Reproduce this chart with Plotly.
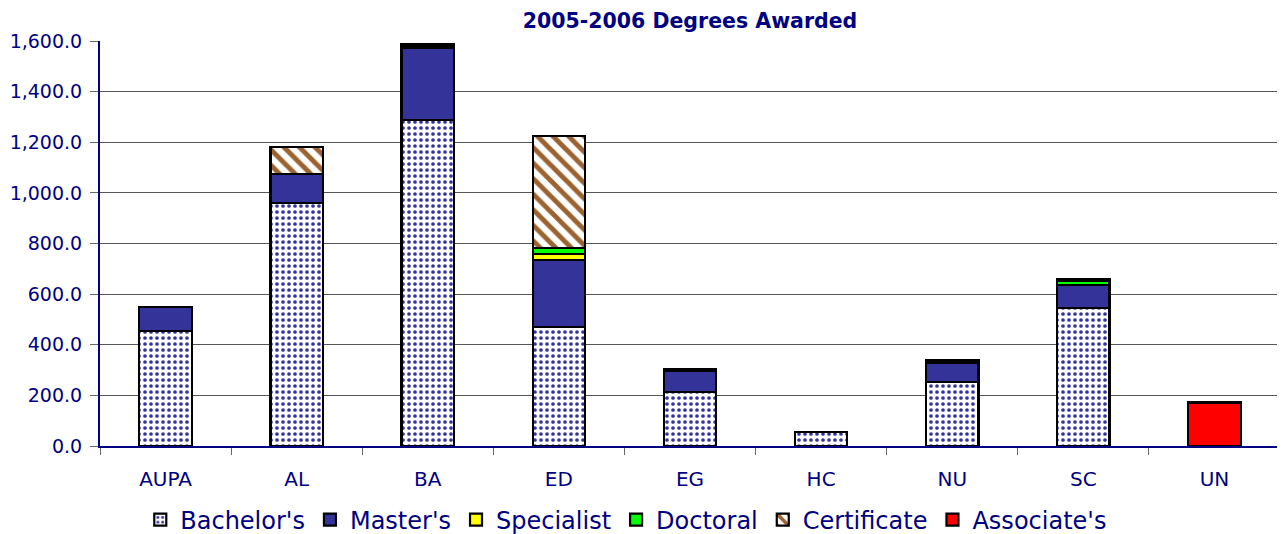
import plotly.graph_objects as go

categories = ["AUPA", "AL", "BA", "ED", "EG", "HC", "NU", "SC", "UN"]
bachelors = [454, 960, 1288, 470, 212, 55, 252, 545, 0]
masters = [95, 115, 284, 265, 84, 0, 78, 90, 0]
specialist = [0, 0, 8, 22, 0, 0, 5, 0, 0]
doctoral = [0, 0, 8, 24, 6, 0, 5, 18, 0]
certificate = [0, 107, 0, 443, 0, 0, 0, 6, 0]
associates = [0, 0, 0, 0, 0, 0, 0, 0, 172]

NAVY = "#000080"
FONT = "DejaVu Sans, Liberation Sans, Arial, sans-serif"

series = [
    ("Bachelor's", bachelors, dict(color="white", pattern=dict(shape=".", fgcolor="#333399", fgopacity=1, bgcolor="white", size=6, solidity=0.3))),
    ("Master's", masters, dict(color="#333399")),
    ("Specialist", specialist, dict(color="#FFFF00")),
    ("Doctoral", doctoral, dict(color="#00FF00")),
    ("Certificate", certificate, dict(color="white", pattern=dict(shape="\\", fgcolor="#9C6330", fgopacity=1, bgcolor="white", size=11, solidity=0.45))),
    ("Associate's", associates, dict(color="#FF0000")),
]

fig = go.Figure()
for name, vals, mk in series:
    mk = dict(mk)
    mk["line"] = dict(color="black", width=2.2)
    fig.add_trace(go.Bar(name=name, x=categories, y=vals, marker=mk))

fig.update_layout(
    barmode="stack",
    bargap=0.6,
    width=1277,
    height=526,
    margin=dict(l=92, r=5, t=33, b=88, autoexpand=False),
    paper_bgcolor="white",
    plot_bgcolor="white",
    font=dict(family=FONT, color=NAVY),
    title=dict(text="<b>2005-2006 Degrees Awarded</b>", xref="paper", x=0.5, xanchor="center",
               y=1 - 13 / 526, yanchor="middle", font=dict(size=20.5, color=NAVY, family=FONT)),
    legend=dict(orientation="h", x=0.446, xanchor="center", y=-0.183, yanchor="middle",
                font=dict(size=24, color=NAVY, family=FONT), traceorder="normal",
                itemwidth=30),
    showlegend=True,
)
fig.update_xaxes(showline=True, linecolor=NAVY, linewidth=2, ticks="outside",
                 tickson="boundaries", ticklen=7, tickcolor="#666", ticklabelstandoff=14,
                 tickfont=dict(size=20, color=NAVY, family=FONT), showgrid=False)
fig.update_yaxes(range=[0, 1600], dtick=200, tickformat=",.1f", showline=True,
                 linecolor=NAVY, linewidth=2, ticks="outside", ticklen=8, tickcolor="#666",
                 ticklabelstandoff=4,
                 gridcolor="#555", gridwidth=1,
                 tickfont=dict(size=19, color=NAVY, family=FONT), zeroline=False)

fig.write_html("out.html")
